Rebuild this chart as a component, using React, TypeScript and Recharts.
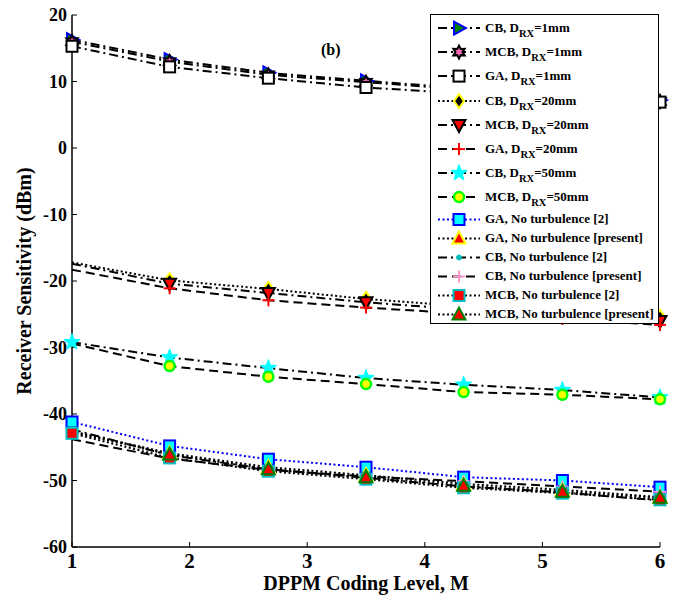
import { LineChart, Line, XAxis, YAxis, Legend, ReferenceDot } from 'recharts';

const FONT = '"Liberation Serif", "Times New Roman", serif';

// DPPM coding level (x positions of the markers)
const codingLevels = [1, 1.83, 2.67, 3.5, 4.33, 5.17, 6];
const xTicks = [1, 2, 3, 4, 5, 6];
const yTicks = [-60, -50, -40, -30, -20, -10, 0, 10, 20];

// receiver sensitivity (dBm), D_RX = 1mm
const cb1mm = [16.3, 13.3, 11.3, 10.1, 9.0, 8.0, 7.2];
const mcb1mm = [16.0, 13.0, 11.0, 9.9, 8.8, 7.9, 7.0];
const ga1mm = [15.3, 12.2, 10.5, 9.1, 8.2, 7.4, 6.9];

// D_RX = 20mm
const cb20mm = [-17.2, -19.9, -21.2, -22.7, -23.8, -24.6, -25.4];
const mcb20mm = [-17.4, -20.4, -21.8, -23.2, -24.3, -25.2, -26.0];
const ga20mm = [-18.3, -21.1, -22.9, -24.0, -24.9, -25.7, -26.6];

// D_RX = 50mm
const cb50mm = [-29.2, -31.5, -33.1, -34.6, -35.6, -36.4, -37.5];
const mcb50mm = [-29.4, -32.8, -34.4, -35.5, -36.7, -37.1, -37.8];

// no turbulence
const gaNt2 = [-41.2, -44.8, -46.8, -48.0, -49.5, -50.0, -51.0];
const gaNtPresent = [-42.6, -45.9, -48.0, -49.2, -50.5, -51.4, -52.5];
const cbNt2 = [-42.3, -46.2, -48.3, -49.6, -50.9, -51.8, -53.0];
const cbNtPresent = [-43.8, -46.7, -48.4, -49.4, -50.1, -50.9, -51.7];
const mcbNt2 = [-42.9, -46.6, -48.6, -49.8, -51.1, -51.9, -52.9];
const mcbNtPresent = [-42.7, -46.1, -48.3, -49.5, -50.8, -51.7, -52.6];

const DASHDOT = '9 4 2 4';
const DASHED = '9 5';
const DOTTED = '2 2.5';

type Marker = 'triRight' | 'hexagram' | 'square' | 'diamond' | 'triDown' | 'plus' | 'pentagram' | 'circle' | 'triUp' | 'dot';

interface Series {
    key: string;
    label: string;
    drx?: string;
    values: number[];
    color: string;
    dash: string;
    marker: Marker;
    edge: string;
    fill: string;
    skipFirst?: boolean;
}

const SERIES: Series[] = [
    { key: 'cb1', label: 'CB', drx: '1mm', values: cb1mm, color: '#000', dash: DASHDOT, marker: 'triRight', edge: '#0000ff', fill: '#008000' },
    { key: 'mcb1', label: 'MCB', drx: '1mm', values: mcb1mm, color: '#000', dash: DASHDOT, marker: 'hexagram', edge: '#000', fill: '#ff69b4' },
    { key: 'ga1', label: 'GA', drx: '1mm', values: ga1mm, color: '#000', dash: DASHDOT, marker: 'square', edge: '#000', fill: '#fff' },
    { key: 'cb20', label: 'CB', drx: '20mm', values: cb20mm, color: '#000', dash: DOTTED, marker: 'diamond', edge: '#ffff00', fill: '#000', skipFirst: true },
    { key: 'mcb20', label: 'MCB', drx: '20mm', values: mcb20mm, color: '#000', dash: DASHDOT, marker: 'triDown', edge: '#000', fill: '#ff0000', skipFirst: true },
    { key: 'ga20', label: 'GA', drx: '20mm', values: ga20mm, color: '#000', dash: DASHED, marker: 'plus', edge: '#ff0000', fill: 'none', skipFirst: true },
    { key: 'cb50', label: 'CB', drx: '50mm', values: cb50mm, color: '#000', dash: DASHDOT, marker: 'pentagram', edge: '#00ffff', fill: '#00ffff' },
    { key: 'mcb50', label: 'MCB', drx: '50mm', values: mcb50mm, color: '#000', dash: DASHED, marker: 'circle', edge: '#00ff00', fill: '#ffff00', skipFirst: true },
    { key: 'gaNt2', label: 'GA, No turbulence [2]', values: gaNt2, color: '#0000ff', dash: DOTTED, marker: 'square', edge: '#0000ff', fill: '#00ffff' },
    { key: 'gaNtP', label: 'GA, No turbulence [present]', values: gaNtPresent, color: '#000', dash: DOTTED, marker: 'triUp', edge: '#ffff00', fill: '#ff0000', skipFirst: true },
    { key: 'cbNt2', label: 'CB, No turbulence [2]', values: cbNt2, color: '#000', dash: DASHDOT, marker: 'dot', edge: '#00bfbf', fill: '#00bfbf' },
    { key: 'cbNtP', label: 'CB, No turbulence [present]', values: cbNtPresent, color: '#000', dash: DASHED, marker: 'plus', edge: '#ff99cc', fill: 'none', skipFirst: true },
    { key: 'mcbNt2', label: 'MCB, No turbulence [2]', values: mcbNt2, color: '#000', dash: DOTTED, marker: 'square', edge: '#00bfbf', fill: '#ff0000' },
    { key: 'mcbNtP', label: 'MCB, No turbulence [present]', values: mcbNtPresent, color: '#000', dash: DOTTED, marker: 'triUp', edge: '#008000', fill: '#ff0000', skipFirst: true },
];

const data = codingLevels.map((x, i) => {
    const row: Record<string, number> = { x };
    SERIES.forEach(s => { row[s.key] = s.values[i]; });
    return row;
});

function starPoints(cx: number, cy: number, n: number, rOut: number, rIn: number) {
    const pts: string[] = [];
    for (let i = 0; i < n * 2; i++) {
        const r = i % 2 === 0 ? rOut : rIn;
        const a = -Math.PI / 2 + (i * Math.PI) / n;
        pts.push(`${cx + r * Math.cos(a)},${cy + r * Math.sin(a)}`);
    }
    return pts.join(' ');
}

function markerShape(s: Series, cx: number, cy: number) {
    const sw = 2;
    switch (s.marker) {
        case 'triRight':
            return <polygon points={`${cx + 7},${cy} ${cx - 5},${cy - 6.5} ${cx - 5},${cy + 6.5}`} fill={s.fill} stroke={s.edge} strokeWidth={sw} />;
        case 'hexagram':
            return <polygon points={starPoints(cx, cy, 6, 6.5, 3.5)} fill={s.fill} stroke={s.edge} strokeWidth={sw} />;
        case 'square':
            return <rect x={cx - 5.5} y={cy - 5.5} width={11} height={11} fill={s.fill} stroke={s.edge} strokeWidth={sw} />;
        case 'diamond':
            return <polygon points={`${cx},${cy - 7} ${cx + 5},${cy} ${cx},${cy + 7} ${cx - 5},${cy}`} fill={s.fill} stroke={s.edge} strokeWidth={sw} />;
        case 'triDown':
            return <polygon points={`${cx - 6.5},${cy - 5} ${cx + 6.5},${cy - 5} ${cx},${cy + 7}`} fill={s.fill} stroke={s.edge} strokeWidth={sw} />;
        case 'triUp':
            return <polygon points={`${cx - 6.5},${cy + 5} ${cx + 6.5},${cy + 5} ${cx},${cy - 7}`} fill={s.fill} stroke={s.edge} strokeWidth={sw} />;
        case 'plus':
            return (
                <g stroke={s.edge} strokeWidth={2}>
                    <line x1={cx - 6} y1={cy} x2={cx + 6} y2={cy} />
                    <line x1={cx} y1={cy - 6} x2={cx} y2={cy + 6} />
                </g>
            );
        case 'pentagram':
            return <polygon points={starPoints(cx, cy, 5, 8.5, 3.5)} fill={s.fill} stroke={s.edge} strokeWidth={1} />;
        case 'circle':
            return <circle cx={cx} cy={cy} r={5} fill={s.fill} stroke={s.edge} strokeWidth={2.5} />;
        case 'dot':
            return <circle cx={cx} cy={cy} r={2.5} fill={s.fill} stroke={s.edge} strokeWidth={1} />;
    }
    return null;
}

function LegendBox() {
    return (
        <div style={{
            width: 227, height: 307, border: '1.5px solid #000', background: '#fff',
            paddingTop: 1, fontFamily: FONT, fontWeight: 'bold', fontSize: 13, color: '#000',
        }}>
            {SERIES.map(s => {
                const h = s.drx ? 24.2 : 19;
                return (
                    <div key={s.key} style={{ height: h, display: 'flex', alignItems: 'center', whiteSpace: 'nowrap' }}>
                        <svg width={54} height={h} style={{ flex: 'none' }}>
                            <line x1={7} y1={h / 2} x2={49} y2={h / 2} stroke={s.color} strokeWidth={2} strokeDasharray={s.dash} />
                            {markerShape(s, 28, h / 2)}
                        </svg>
                        {s.drx ? (
                            <span>
                                {s.label}, D<span style={{ fontSize: 10.5, position: 'relative', top: 5 }}>RX</span>={s.drx}
                            </span>
                        ) : (
                            <span>{s.label}</span>
                        )}
                    </div>
                );
            })}
        </div>
    );
}

const tickStyle = { fill: '#000', fontSize: 18, fontWeight: 'bold', fontFamily: FONT };
const axisLine = { stroke: '#000', strokeWidth: 1.5 };
const tickLine = { stroke: '#000', strokeWidth: 1 };

export default function App() {
    return (
        <div style={{ position: 'absolute', left: 0, top: 0, background: '#fff' }}>
            <LineChart width={681} height={599} data={data} margin={{ top: 15, right: 21, bottom: 0, left: 0 }}>
                <XAxis
                    xAxisId="b" dataKey="x" type="number" domain={[1, 6]} ticks={xTicks} interval={0}
                    height={52} tickSize={-5} tickMargin={11} axisLine={axisLine} tickLine={tickLine}
                    tick={{ ...tickStyle, fontSize: 21 }}
                    label={{ value: 'DPPM Coding Level, M', position: 'insideBottom', offset: 9, ...tickStyle, fontSize: 20 }}
                />
                <XAxis xAxisId="t" orientation="top" type="number" domain={[1, 6]} ticks={xTicks} interval={0}
                    height={0} tickSize={-5} tick={false} axisLine={axisLine} tickLine={tickLine} />
                <YAxis
                    yAxisId="l" type="number" domain={[-60, 20]} ticks={yTicks} interval={0}
                    width={72} tickSize={-5} tickMargin={10} axisLine={axisLine} tickLine={tickLine}
                    tick={tickStyle}
                    label={{ value: 'Receiver Sensitivity (dBm)', angle: -90, position: 'center', dx: -12, ...tickStyle, fontSize: 20 }}
                />
                <YAxis yAxisId="r" orientation="right" type="number" domain={[-60, 20]} ticks={yTicks} interval={0}
                    width={0} tickSize={-5} tick={false} axisLine={axisLine} tickLine={tickLine} />
                {SERIES.map(s => (
                    <Line
                        key={s.key} xAxisId="b" yAxisId="l" dataKey={s.key} type="linear"
                        stroke={s.color} strokeWidth={2} strokeDasharray={s.dash}
                        isAnimationActive={false} activeDot={false}
                        dot={(p: any) => (
                            <g key={`${s.key}-${p.index}`}>
                                {s.skipFirst && p.index === 0 ? null : markerShape(s, p.cx, p.cy)}
                            </g>
                        )}
                    />
                ))}
                <ReferenceDot xAxisId="b" yAxisId="l" x={3.2} y={14.8} r={0} fill="none" stroke="none"
                    label={{ value: '(b)', position: 'center', ...tickStyle, fontSize: 16 }} />
                <Legend
                    layout="vertical" align="center" verticalAlign="middle"
                    content={() => <LegendBox />}
                    wrapperStyle={{ position: 'absolute', left: 430, top: 14, width: 230, height: 310, margin: 0 }}
                />
            </LineChart>
        </div>
    );
}
